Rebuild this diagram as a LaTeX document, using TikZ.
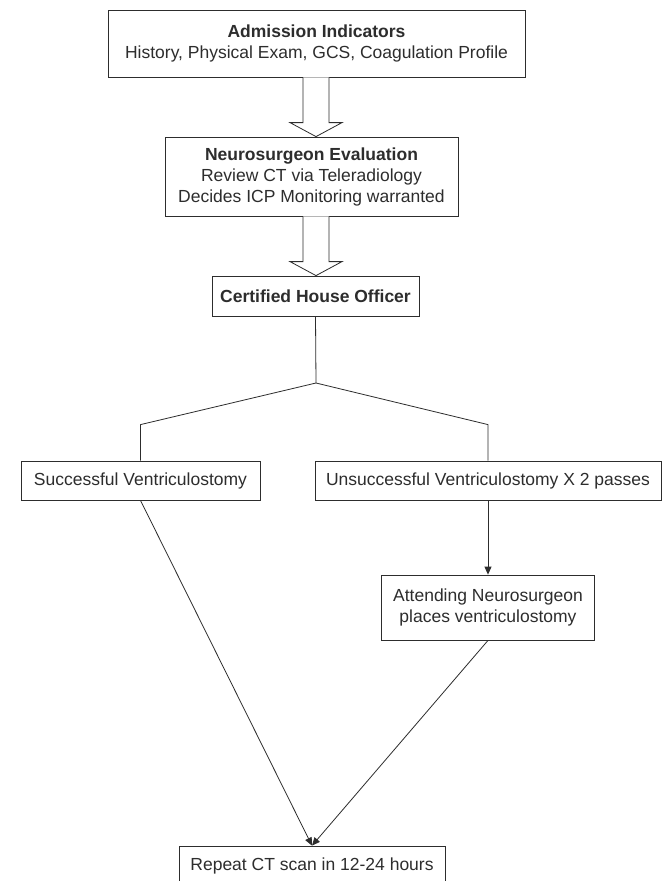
\documentclass[tikz,border=0pt]{standalone}
\usepackage{fontspec}
\setmainfont{Liberation Sans}
\usetikzlibrary{arrows.meta,calc}
\definecolor{ink}{RGB}{45,45,45}

\begin{document}
\begin{tikzpicture}[x=1pt,y=-1pt,line width=0.8pt,color=ink]
    \tikzstyle{box}=[rectangle,draw=ink,fill=white,align=center,inner sep=0pt,font=\fontsize{17.5}{21}\selectfont]
    \tikzstyle{link}=[-{Triangle[length=8pt,width=7pt]}]
    \clip (0,0) rectangle (666,881);
    \fill[white] (0,0) rectangle (666,881);

    \node[box,minimum width=417pt,minimum height=67pt] (adm) at (316.5,43.5)
        {\textbf{Admission Indicators}\\History, Physical Exam, GCS, Coagulation Profile};
    \node[box,minimum width=293pt,minimum height=79pt] (neuro) at (311.5,176.5)
        {\textbf{Neurosurgeon Evaluation}\\Review CT via Teleradiology\\Decides ICP Monitoring warranted};
    \node[box,minimum width=207pt,minimum height=40pt] (cho) at (315.5,296)
        {\textbf{Certified House Officer}};
    \node[box,minimum width=239pt,minimum height=39pt] (succ) at (140.5,480.5)
        {Successful Ventriculostomy};
    \node[box,minimum width=346pt,minimum height=39pt] (unsucc) at (488,480.5)
        {Unsuccessful Ventriculostomy X 2 passes};
    \node[box,minimum width=213pt,minimum height=65pt] (att) at (488,607.5)
        {Attending Neurosurgeon\\places ventriculostomy};
    \node[box,minimum width=266pt,minimum height=40pt] (rep) at (312,866)
        {Repeat CT scan in 12-24 hours};

    % hollow arrows
    \coordinate (mid) at (316,0);
    \foreach \from/\to in {adm/neuro,neuro/cho}
        \draw[fill=white] ($(\from.south -| mid)+(-13,0)$) -- ($(\to.north -| mid)+(-13,-14)$)
            -- ($(\to.north -| mid)+(-26,-14)$) -- (\to.north -| mid)
            -- ($(\to.north -| mid)+(26,-14)$) -- ($(\to.north -| mid)+(13,-14)$)
            -- ($(\from.south -| mid)+(13,0)$);

    \coordinate (split) at (316,383);
    \draw (cho.south) -- (split);
    \foreach \to in {succ,unsucc}
        \draw (split) -- ($(\to.north)+(0,-36)$) -- (\to.north);

    \draw[link] (unsucc.south) -- (att.north);
    \draw[link] (succ.south) -- (rep.north);
    \draw[link] (att.south) -- (rep.north);
\end{tikzpicture}
\end{document}
